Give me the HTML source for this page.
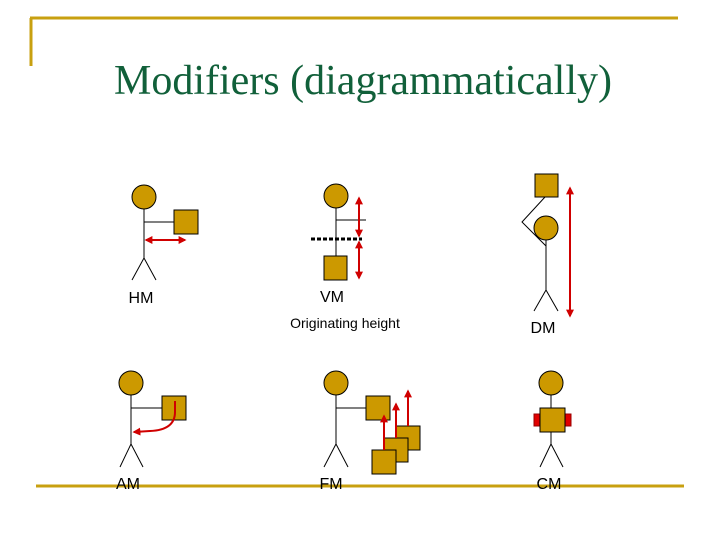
<!DOCTYPE html>
<html><head><meta charset="utf-8"><style>
html,body{margin:0;padding:0;background:#fff;width:720px;height:540px;overflow:hidden}
</style></head><body>
<svg width="720" height="540" viewBox="0 0 720 540" xmlns="http://www.w3.org/2000/svg">
<defs>
<marker id="a" viewBox="0 0 10 10" refX="8" refY="5" markerWidth="4" markerHeight="4" orient="auto-start-reverse"><path d="M0,0 L10,5 L0,10 z" fill="#d00000"/></marker>
</defs>
<g fill="none" stroke="#c8a010" stroke-width="3">
<path d="M30,18 H678 M31,18 V66"/>
<path d="M36,486 H684"/>
</g>
<text x="363" y="94" text-anchor="middle" font-family="Liberation Serif, serif" font-size="42" fill="#11603a">Modifiers (diagrammatically)</text>
<g font-family="Liberation Sans, sans-serif" font-size="16" fill="#000" text-anchor="middle">
<text x="141" y="303">HM</text>
<text x="332" y="302">VM</text>
<text x="345" y="328" font-size="14">Originating height</text>
<text x="543" y="333">DM</text>
<text x="128" y="489">AM</text>
<text x="331" y="489">FM</text>
<text x="549" y="489">CM</text>
</g>
<g stroke="#000" stroke-width="1" fill="#cc9900">
<path d="M144,209 V258 L132,280 M144,258 L156,280 M144,222 H174" fill="none"/>
<circle cx="144" cy="197" r="12"/>
<rect x="174" y="210" width="24" height="24"/>
<path d="M336,208 V256 M336,220 H366" fill="none"/>
<circle cx="336" cy="196" r="12"/>
<rect x="324" y="256" width="23" height="24"/>
<path d="M546,240 V290 L534,311 M546,290 L558,311 M545,197 L522,222 L546,246" fill="none"/>
<rect x="535" y="174" width="23" height="23"/>
<circle cx="546" cy="228" r="12"/>
<path d="M131,395 V444 L120,467 M131,444 L143,467 M131,408 H162" fill="none"/>
<circle cx="131" cy="383" r="12"/>
<rect x="162" y="396" width="24" height="24"/>
<path d="M336,395 V444 L324,467 M336,444 L348,467 M336,408 H366" fill="none"/>
<circle cx="336" cy="383" r="12"/>
<rect x="366" y="396" width="24" height="24"/>
<rect x="396" y="426" width="24" height="24"/>
<rect x="384" y="438" width="24" height="24"/>
<rect x="372" y="450" width="24" height="24"/>
<path d="M551,395 V444 L540,467 M551,444 L563,467" fill="none"/>
<circle cx="551" cy="383" r="12"/>
<rect x="534" y="414" width="6" height="12" fill="#e00000" stroke="#900"/>
<rect x="565" y="414" width="6" height="12" fill="#e00000" stroke="#900"/>
<rect x="540" y="408" width="25" height="24"/>
</g>
<path d="M311,239 H362" stroke="#000" stroke-width="3" stroke-dasharray="4,2"/>
<g stroke="#d00000" stroke-width="2" fill="none" marker-start="url(#a)" marker-end="url(#a)">
<path d="M146,240 H185"/>
<path d="M359,198 V236"/>
<path d="M359,242 V278"/>
<path d="M570,188 V316"/>
</g>
<g stroke="#d00000" stroke-width="2" fill="none" marker-end="url(#a)">
<path d="M175,401 V412 Q175,430 150,431 L134,432"/>
<path d="M384,450 V416"/>
<path d="M396,438 V404"/>
<path d="M408,426 V391"/>
</g>
</svg>
</body></html>
